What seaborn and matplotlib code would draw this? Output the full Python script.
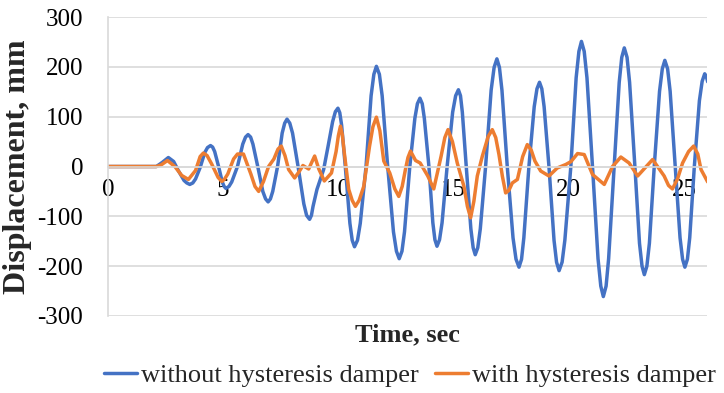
import matplotlib
matplotlib.use("Agg")
import matplotlib.pyplot as plt
from matplotlib.lines import Line2D
import pandas as pd
import seaborn as sns

# ---------------- data ----------------
series_names = ["without hysteresis damper", "with hysteresis damper"]

time_without = [0, 1.0, 2.1, 2.35, 2.62, 2.85, 3.05,
                3.3, 3.42, 3.55, 3.68, 3.8,
                4.0, 4.2, 4.32, 4.45, 4.54, 4.63,
                4.8, 4.96, 5.04, 5.12, 5.25, 5.37,
                5.62, 5.85, 5.97, 6.08, 6.19, 6.29,
                6.5, 6.72, 6.84, 6.95, 7.05, 7.15,
                7.36, 7.56, 7.67, 7.77, 7.89, 8.01,
                8.25, 8.5, 8.62, 8.75, 8.83, 8.9, 9.07, 9.36,
                9.55, 9.75, 9.87, 9.98, 10.06, 10.14,
                10.3, 10.5, 10.6, 10.7, 10.83, 10.95,
                11.2, 11.42, 11.54, 11.65, 11.78, 11.9,
                12.14, 12.39, 12.52, 12.64, 12.76, 12.87,
                13.1, 13.32, 13.43, 13.54, 13.64, 13.73,
                13.93, 14.1, 14.19, 14.28, 14.39, 14.5,
                14.72, 14.96, 15.09, 15.21, 15.3, 15.38,
                15.55, 15.75, 15.85, 15.94, 16.05, 16.16,
                16.39, 16.63, 16.76, 16.88, 16.99, 17.1,
                17.33, 17.58, 17.71, 17.84, 17.95, 18.05,
                18.27, 18.5, 18.62, 18.73, 18.83, 18.93,
                19.14, 19.36, 19.47, 19.58, 19.71, 19.83,
                20.09, 20.32, 20.44, 20.55, 20.67, 20.79,
                21.03, 21.27, 21.39, 21.5, 21.62, 21.73,
                21.97, 22.19, 22.3, 22.41, 22.53, 22.64,
                22.87, 23.07, 23.18, 23.28, 23.39, 23.5,
                23.71, 23.94, 24.06, 24.17, 24.29, 24.4,
                24.62, 24.83, 24.94, 25.04, 25.15, 25.25,
                25.45, 25.67, 25.79, 25.9, 25.97, 26.03]
disp_without = [0, 0, 0, 8, 18, 10, -8,
                -28, -33, -36, -33, -25,
                -2, 28, 38, 42, 39, 30,
                0, -31, -40, -44, -40, -31,
                0, 45, 59, 64, 59, 45,
                0, -50, -65, -71, -65, -50,
                0, 67, 87, 95, 87, 67,
                0, -75, -98, -106, -98, -80, -46, -6,
                40, 90, 110, 117, 108, 83,
                0, -114, -148, -161, -148, -114,
                0, 142, 185, 201, 185, 142,
                0, -131, -170, -185, -170, -131,
                0, 97, 126, 137, 126, 97,
                0, -113, -147, -160, -147, -113,
                0, 109, 142, 154, 142, 109,
                0, -125, -163, -177, -163, -125,
                0, 153, 199, 216, 199, 153,
                0, -143, -186, -202, -186, -143,
                0, 120, 156, 169, 156, 120,
                0, -148, -192, -209, -192, -148,
                0, 178, 231, 251, 231, 178,
                0, -185, -240, -261, -240, -185,
                0, 169, 219, 238, 219, 169,
                0, -154, -200, -217, -200, -154,
                0, 151, 196, 213, 196, 151,
                0, -143, -186, -202, -186, -143,
                0, 132, 171, 186, 181, 170]

time_with = [0, 1.0, 2.1, 2.3, 2.58, 2.9, 3.2, 3.49, 3.8,
             4.0, 4.14, 4.3, 4.5, 4.78, 4.94, 5.05, 5.2, 5.45,
             5.62, 5.88, 6.2, 6.38, 6.54, 6.75, 6.97, 7.2, 7.38,
             7.52, 7.68, 7.84, 8.1, 8.3, 8.46, 8.71, 8.97, 9.15,
             9.39, 9.7, 9.9, 10.0, 10.09, 10.17, 10.25, 10.45, 10.6,
             10.74, 10.9, 11.1, 11.35, 11.5, 11.65, 11.8, 11.97, 12.23,
             12.45, 12.62, 12.77, 12.91, 13.02, 13.13, 13.35, 13.55, 13.88,
             14.14, 14.46, 14.62, 14.76, 14.95, 15.16, 15.45, 15.6, 15.74,
             15.88, 16.03, 16.25, 16.5, 16.68, 16.83, 16.97, 17.12, 17.26,
             17.4, 17.55, 17.77, 18.0, 18.2, 18.37, 18.53, 18.78, 19.14,
             19.5, 19.87, 20.1, 20.38, 20.67, 21.03, 21.54, 21.9, 22.26,
             22.62, 22.99, 23.64, 24.14, 24.33, 24.5, 24.72, 24.94, 25.2,
             25.42, 25.6, 25.74, 26.03]
disp_with = [0, 0, 0, 3, 12, 0, -18, -26, -8,
             20, 27, 22, 5, -22, -30, -26, -15, 15,
             25, 25, -15, -40, -50, -30, 0, 15, 35,
             41, 22, -6, -23, -10, 2, -5, 21, -5,
             -29, -13, 30, 62, 81, 64, 30, -46, -68,
             -80, -68, -40, 40, 80, 99, 72, 11, -13,
             -45, -60, -40, -6, 18, 31, 12, 7, -19,
             -45, 21, 58, 74, 50, 7, -40, -80, -103,
             -70, -19, 21, 60, 74, 58, 24, -20, -53,
             -48, -33, -26, 20, 44, 33, 11, -9, -19,
             -3, 4, 10, 26, 24, -16, -36, 0, 19,
             7, -19, 14, -19, -38, -45, -25, 7, 30,
             41, 25, -6, -31]

x_ticks = [0, 5, 10, 15, 20, 25]
y_ticks = [-300, -200, -100, 0, 100, 200, 300]

# ---------------- build table ----------------
df = pd.concat([
    pd.DataFrame({"t": time_without, "v": disp_without, "series": series_names[0]}),
    pd.DataFrame({"t": time_with, "v": disp_with, "series": series_names[1]}),
], ignore_index=True)

BLUE = "#4472C4"
ORANGE = "#ED7D31"
GRID = "#D9D9D9"

sns.set_theme(style="white")
plt.rcParams["font.family"] = ["Liberation Serif", "DejaVu Serif"]

fig = plt.figure(figsize=(7.24, 3.93), dpi=100)
ax = fig.add_axes([108 / 724, 1 - 316 / 393, 599 / 724, 299 / 393])

sns.lineplot(data=df, x="t", y="v", hue="series", hue_order=series_names,
             palette=[BLUE, ORANGE], linewidth=2.5, estimator=None, sort=False,
             legend=False, ax=ax)
for ln in ax.get_lines():
    ln.set_solid_joinstyle("round")
    ln.set_solid_capstyle("round")

ax.set_xlim(0, 26)
ax.set_ylim(-300, 300)
ax.set_xticks(x_ticks)
ax.set_yticks(y_ticks)
ax.set_xticklabels([str(v) for v in x_ticks])
ax.set_yticklabels([str(v) for v in y_ticks])

ax.set_axisbelow(True)
ax.yaxis.grid(True, color=GRID, linewidth=1.2)
ax.xaxis.grid(False)

for s in ["top", "right"]:
    ax.spines[s].set_visible(False)
ax.spines["left"].set_color(GRID)
ax.spines["left"].set_linewidth(1.2)
ax.spines["bottom"].set_position(("data", 0))
ax.spines["bottom"].set_color(GRID)
ax.spines["bottom"].set_linewidth(1.2)

ax.tick_params(axis="both", length=0, labelsize=18, colors="black")
ax.tick_params(axis="y", pad=18)
ax.tick_params(axis="x", pad=9)

ax.set_xlabel("Time, sec", fontsize=19, fontweight="bold")
ax.xaxis.set_label_coords(0.5, -0.024)
ax.set_ylabel("Displacement, mm", fontsize=23, fontweight="bold")
ax.yaxis.set_label_coords(-0.127, 0.5)

handles = [Line2D([], [], color=BLUE, lw=2.5), Line2D([], [], color=ORANGE, lw=2.5)]
fig.legend(handles, series_names, loc="center", bbox_to_anchor=(410 / 724, 1 - 375 / 393),
           ncol=2, frameon=False, fontsize=19, handlelength=1.25, handletextpad=0.15,
           columnspacing=0.6, borderpad=0, borderaxespad=0)

fig.savefig("out.png", dpi=100)
